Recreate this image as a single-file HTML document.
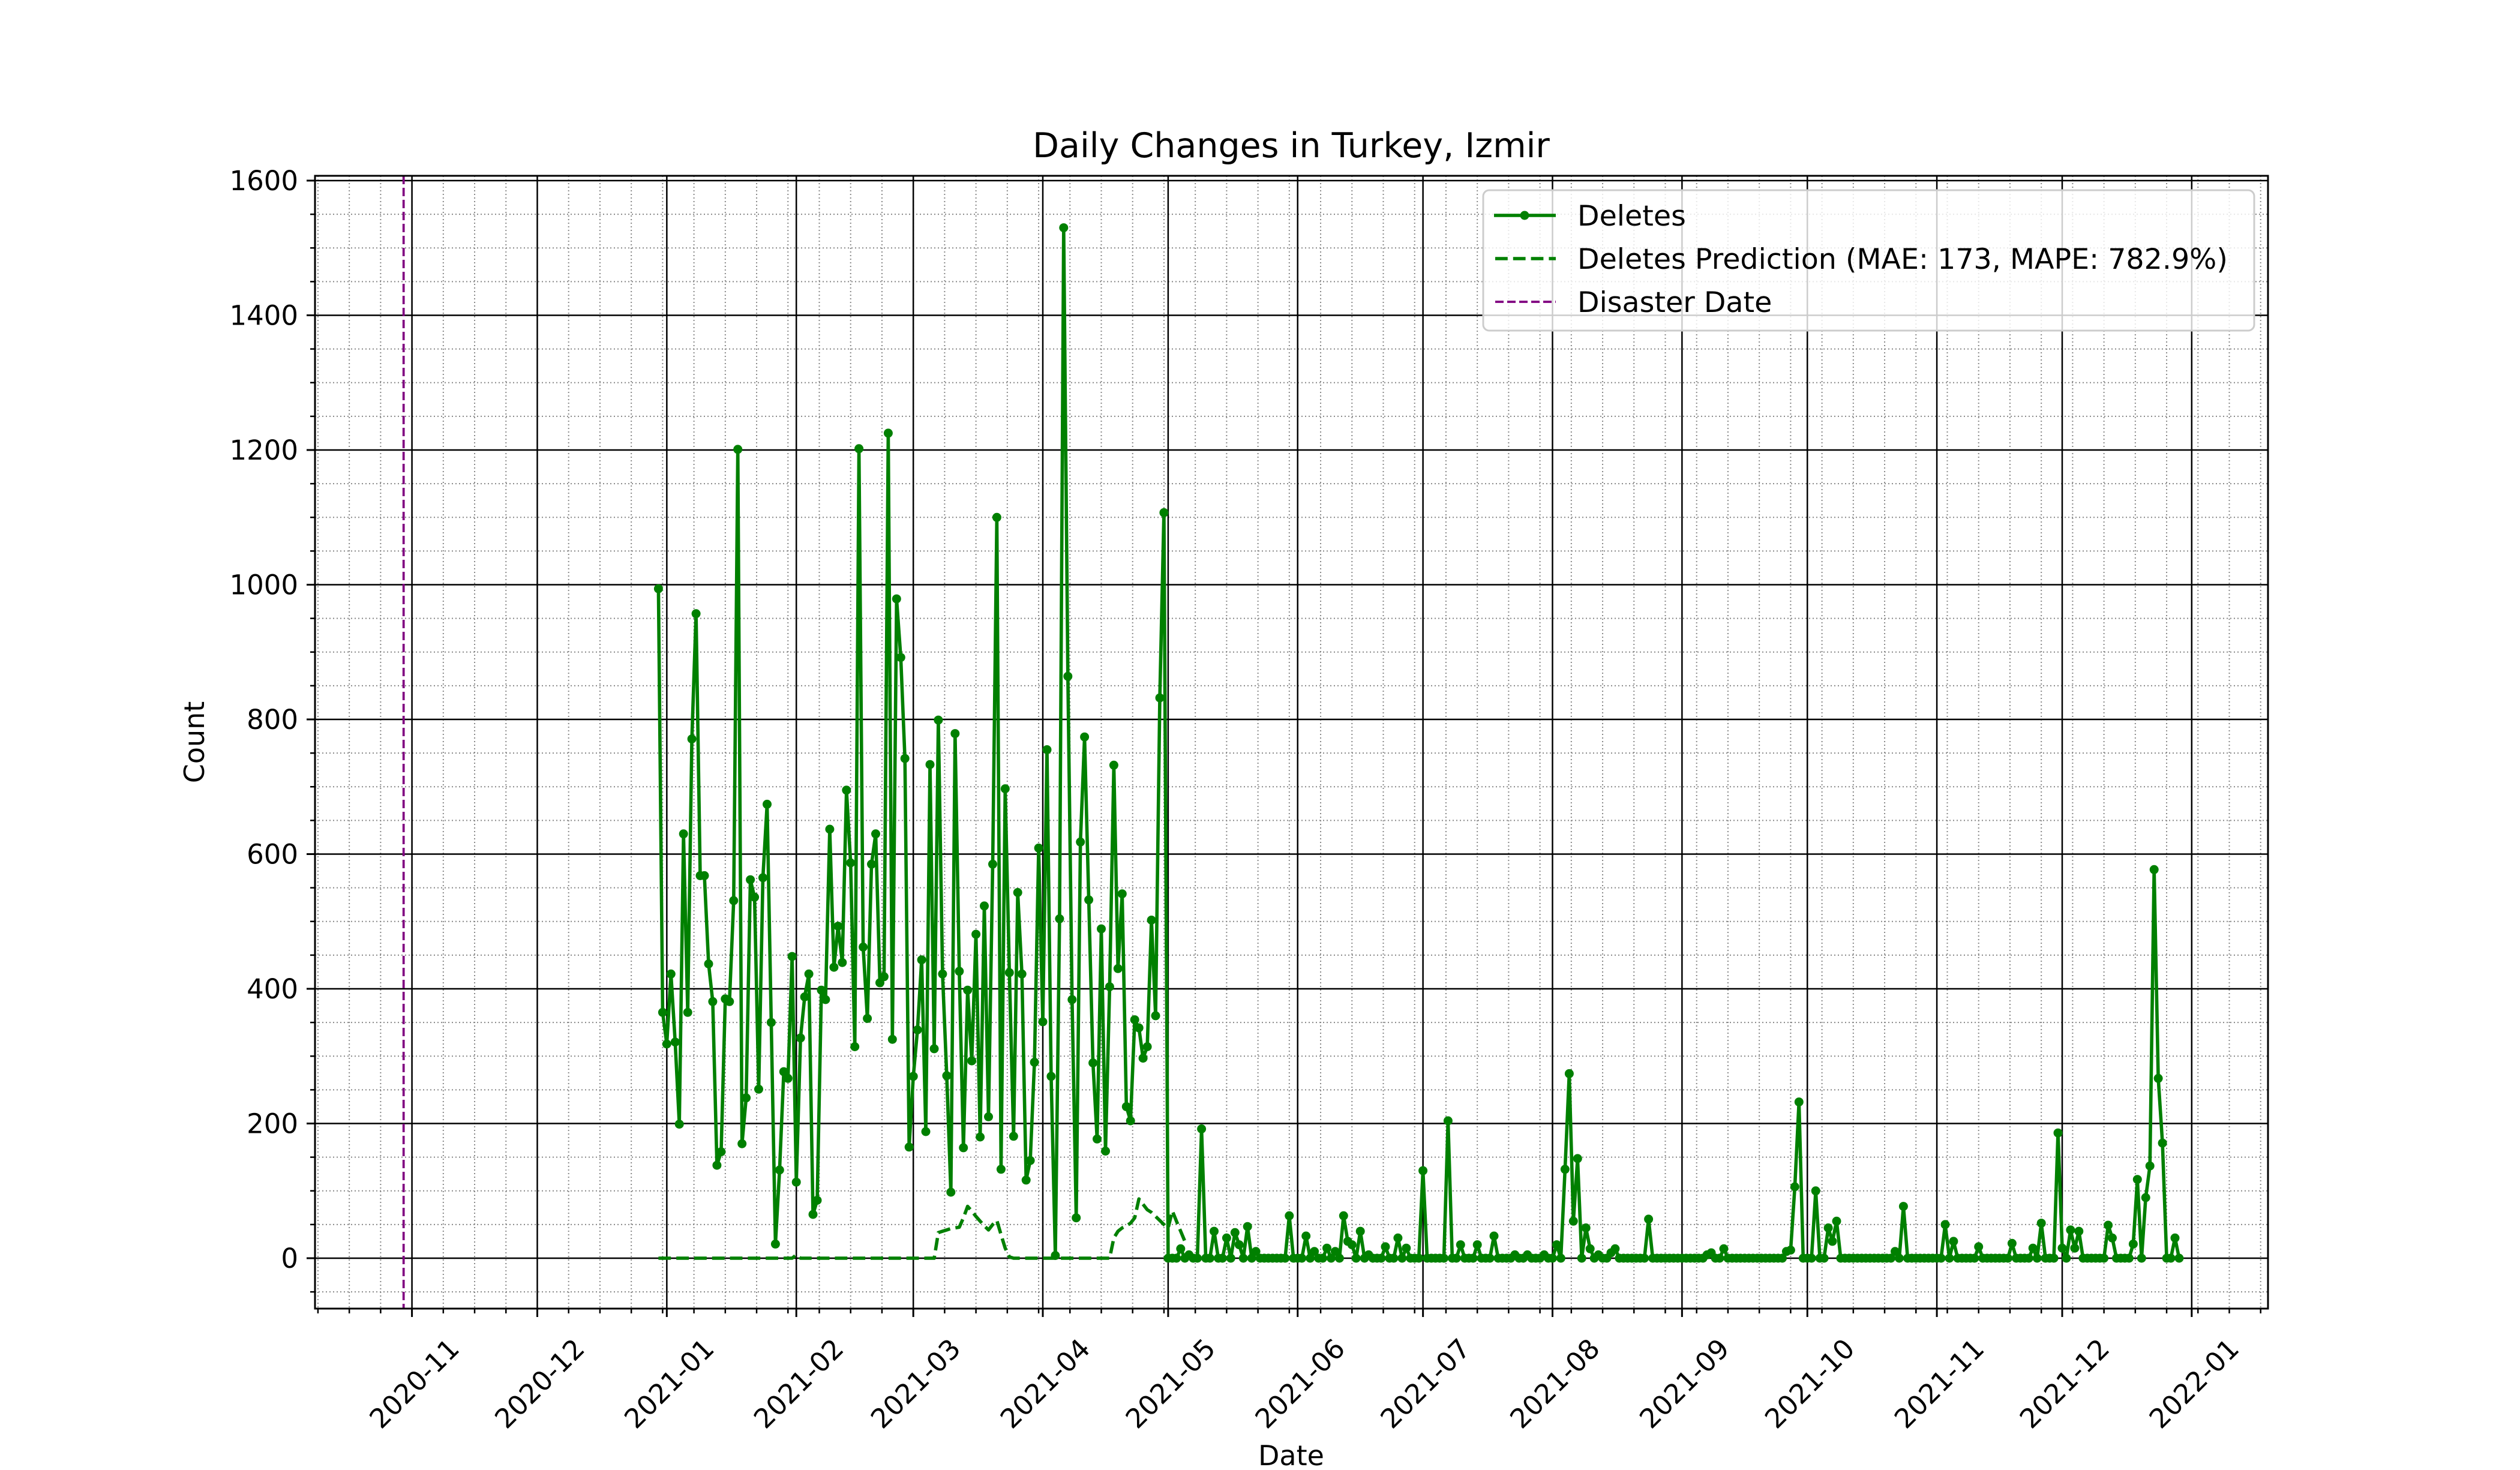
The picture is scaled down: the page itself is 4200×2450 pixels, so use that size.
<!DOCTYPE html>
<html><head><meta charset="utf-8"><style>
html,body{margin:0;padding:0;background:#fff}
svg{display:block}
text{font-family:"DejaVu Sans","Liberation Sans",sans-serif;fill:#000}
</style></head><body>
<svg id="chart" xmlns="http://www.w3.org/2000/svg" width="4200" height="2450" viewBox="0 0 4200 2450">
<rect x="0" y="0" width="4200" height="2450" fill="#fff"/>
<g id="grid"></g>
<g id="series"></g>
<g id="axes"></g>
<text x="2152" y="262" font-size="57" text-anchor="middle">Daily Changes in Turkey, Izmir</text>
<text x="2152" y="2442" font-size="46" text-anchor="middle">Date</text>
<text x="0" y="0" font-size="46" text-anchor="middle" transform="translate(340,1237) rotate(-90)">Count</text>
<g>
<rect x="2472" y="317" width="1285" height="234" rx="10" fill="#fff" fill-opacity="0.8" stroke="#cccccc" stroke-width="3"/>
<g>
<line x1="2490" y1="359" x2="2593" y2="359" stroke="#008000" stroke-width="5.6"/>
<circle cx="2541" cy="359" r="7.5" fill="#008000"/>
<text x="2629" y="376" font-size="47.5">Deletes</text></g>
<g>
<line x1="2492" y1="431" x2="2593" y2="431" stroke="#008000" stroke-width="5.6" stroke-dasharray="20.8,9"/>
<text x="2629" y="448" font-size="47.5">Deletes Prediction (MAE: 173, MAPE: 782.9%)</text></g>
<g>
<line x1="2492" y1="503" x2="2593" y2="503" stroke="#800080" stroke-width="3.75" stroke-dasharray="14,6"/>
<text x="2629" y="520" font-size="47.5">Disaster Date</text></g>
</g>
</svg>
<script>
const deletesStart = "2020-12-30";
const deletesValues = [
994,365,318,422,321,199,630,365,771,957,
568,568,437,381,138,158,385,381,531,1201,
170,238,562,536,251,565,674,350,21,131,
277,267,448,113,327,388,422,65,86,398,
384,637,432,493,439,695,587,314,1202,462,
356,585,630,409,418,1225,325,979,892,742,
165,270,339,443,188,733,311,799,422,271,
98,779,426,164,398,293,481,180,523,210,
585,1100,132,697,424,181,543,422,116,145,
291,609,351,755,270,4,504,1530,864,384,
60,618,774,532,290,177,489,159,403,732,
430,541,225,204,354,342,297,314,502,360,
832,1107,
0,0,0,14,0,5,0,0,192,0,
0,40,0,0,30,0,38,20,0,47,
0,10,0,0,0,0,0,0,0,63,
0,0,0,33,0,10,0,0,15,0,
10,0,63,25,20,0,40,0,5,0,
0,0,17,0,0,30,0,15,0,0,
0,130,0,0,0,0,0,204,0,0,
20,0,0,0,20,0,0,0,33,0,
0,0,0,5,0,0,5,0,0,0,
5,0,0,20,0,132,274,55,148,0,
45,14,0,5,0,0,8,14,0,0,
0,0,0,0,0,58,0,0,0,0,
0,0,0,0,0,0,0,0,0,5,
8,0,0,14,0,0,0,0,0,0,
0,0,0,0,0,0,0,0,10,12,
106,232,0,0,0,100,0,0,45,25,
55,0,0,0,0,0,0,0,0,0,
0,0,0,0,10,0,77,0,0,0,
0,0,0,0,0,0,50,0,25,0,
0,0,0,0,17,0,0,0,0,0,
0,0,22,0,0,0,0,15,0,52,
0,0,0,186,15,0,42,15,40,0,
0,0,0,0,0,49,30,0,0,0,
0,21,117,0,90,137,577,267,171,0,
0,30,0];
const predictionStart = "2020-12-30";
const predictionValues = [
0,0,0,0,0,0,0,0,0,0,0,0,0,0,0,0,0,0,0,0,0,0,0,0,0,0,0,0,0,0,0,0,0,
5,
0,0,0,0,0,0,0,0,0,0,0,0,0,0,0,0,0,0,0,0,0,0,0,0,0,0,0,0,0,0,0,0,0,
38,40,42,44,45,46,60,77,70,62,55,48,42,50,56,35,15,2,
0,0,0,0,0,0,0,0,0,0,0,0,0,0,0,0,0,0,0,0,0,0,0,0,
30,40,45,48,52,60,88,80,72,68,62,56,50,45,70,55,40,25];
const disasterDate = "2020-10-30";
const xTickLabels = ["2020-11","2020-12","2021-01","2021-02","2021-03","2021-04","2021-05","2021-06","2021-07","2021-08","2021-09","2021-10","2021-11","2021-12","2022-01"];
const yTickValues = [0,200,400,600,800,1000,1200,1400,1600];

const NS="http://www.w3.org/2000/svg";
const AX={l:525,r:3780,t:293,b:2181};
const ORIGIN=Date.UTC(2020,10,1);
function dayOf(s){const p=s.split("-").map(Number);return (Date.UTC(p[0],p[1]-1,p[2]||1)-ORIGIN)/86400000;}
function xs(d){return 686.6+d*6.963;}
function ys(v){return 2097-v*1.1225;}
function mk(tag,attrs,parent){const e=document.createElementNS(NS,tag);for(const k in attrs)e.setAttribute(k,attrs[k]);parent.appendChild(e);return e;}
const grid=document.getElementById("grid"),series=document.getElementById("series"),axes=document.getElementById("axes");

for(let k=-3;k<60;k++){const x=xs(k*7.5);if(x<AX.l||x>AX.r)continue;
 const g=mk("line",{x1:x,x2:x,y1:AX.t,y2:AX.b,stroke:"#888",'stroke-width':2,'stroke-dasharray':"2,4"},grid);
 
 
 const t=mk("line",{x1:x,x2:x,y1:AX.b,y2:AX.b+8,stroke:"#000",'stroke-width':2.5},axes);
 
 }
for(let v=-50;v<=1600;v+=50){if(v%200===0)continue;const y=ys(v);
 const g=mk("line",{x1:AX.l,x2:AX.r,y1:y,y2:y,stroke:"#888",'stroke-width':2,'stroke-dasharray':"2,4"},grid);
 
 
 const t=mk("line",{x1:AX.l-8,x2:AX.l,y1:y,y2:y,stroke:"#000",'stroke-width':2.5},axes);
 
 }
xTickLabels.forEach(lb=>{const x=xs(dayOf(lb+"-01"));
 const g=mk("line",{x1:x,x2:x,y1:AX.t,y2:AX.b,stroke:"#000",'stroke-width':2.5},grid);
 
 
 const t=mk("line",{x1:x,x2:x,y1:AX.b,y2:AX.b+14,stroke:"#000",'stroke-width':3},axes);
 
 
 const tx=mk("text",{x:0,y:0,'font-size':45,'text-anchor':"middle",'dominant-baseline':"central",transform:`translate(${x+4},2306) rotate(-45)`},axes);
 tx.textContent=lb;
 
 });
yTickValues.forEach(v=>{const y=ys(v);
 const g=mk("line",{x1:AX.l,x2:AX.r,y1:y,y2:y,stroke:"#000",'stroke-width':2.5},grid);
 
 
 const t=mk("line",{x1:AX.l-14,x2:AX.l,y1:y,y2:y,stroke:"#000",'stroke-width':3},axes);
 
 
 const tx=mk("text",{x:AX.l-28,y:y+16,'font-size':45,'text-anchor':"end"},axes);
 tx.textContent=String(v);
 
 });
const frame=mk("rect",{x:AX.l,y:AX.t,width:AX.r-AX.l,height:AX.b-AX.t,fill:"none",stroke:"#000",'stroke-width':3},axes);



const dx=xs(dayOf(disasterDate));
const dl=mk("line",{x1:dx,x2:dx,y1:AX.t,y2:AX.b,stroke:"#800080",'stroke-width':3.75,'stroke-dasharray':"14,6"},series);



const p0=dayOf(predictionStart);
const pp=predictionValues.map((v,i)=>xs(p0+i).toFixed(1)+","+ys(v).toFixed(1)).join(" ");
const pl=mk("polyline",{points:pp,fill:"none",stroke:"#008000",'stroke-width':5.6,'stroke-dasharray':"20.8,9",'stroke-linejoin':"round"},series);



const d0=dayOf(deletesStart);
const dp=deletesValues.map((v,i)=>xs(d0+i).toFixed(1)+","+ys(v).toFixed(1)).join(" ");
const line=mk("polyline",{points:dp,fill:"none",stroke:"#008000",'stroke-width':5.6,'stroke-linejoin':"round"},series);


deletesValues.forEach((v,i)=>{
 const c=mk("circle",{cx:xs(d0+i).toFixed(1),cy:ys(v).toFixed(1),r:7.5,fill:"#008000"},series);
 
 });
</script>
</body></html>
